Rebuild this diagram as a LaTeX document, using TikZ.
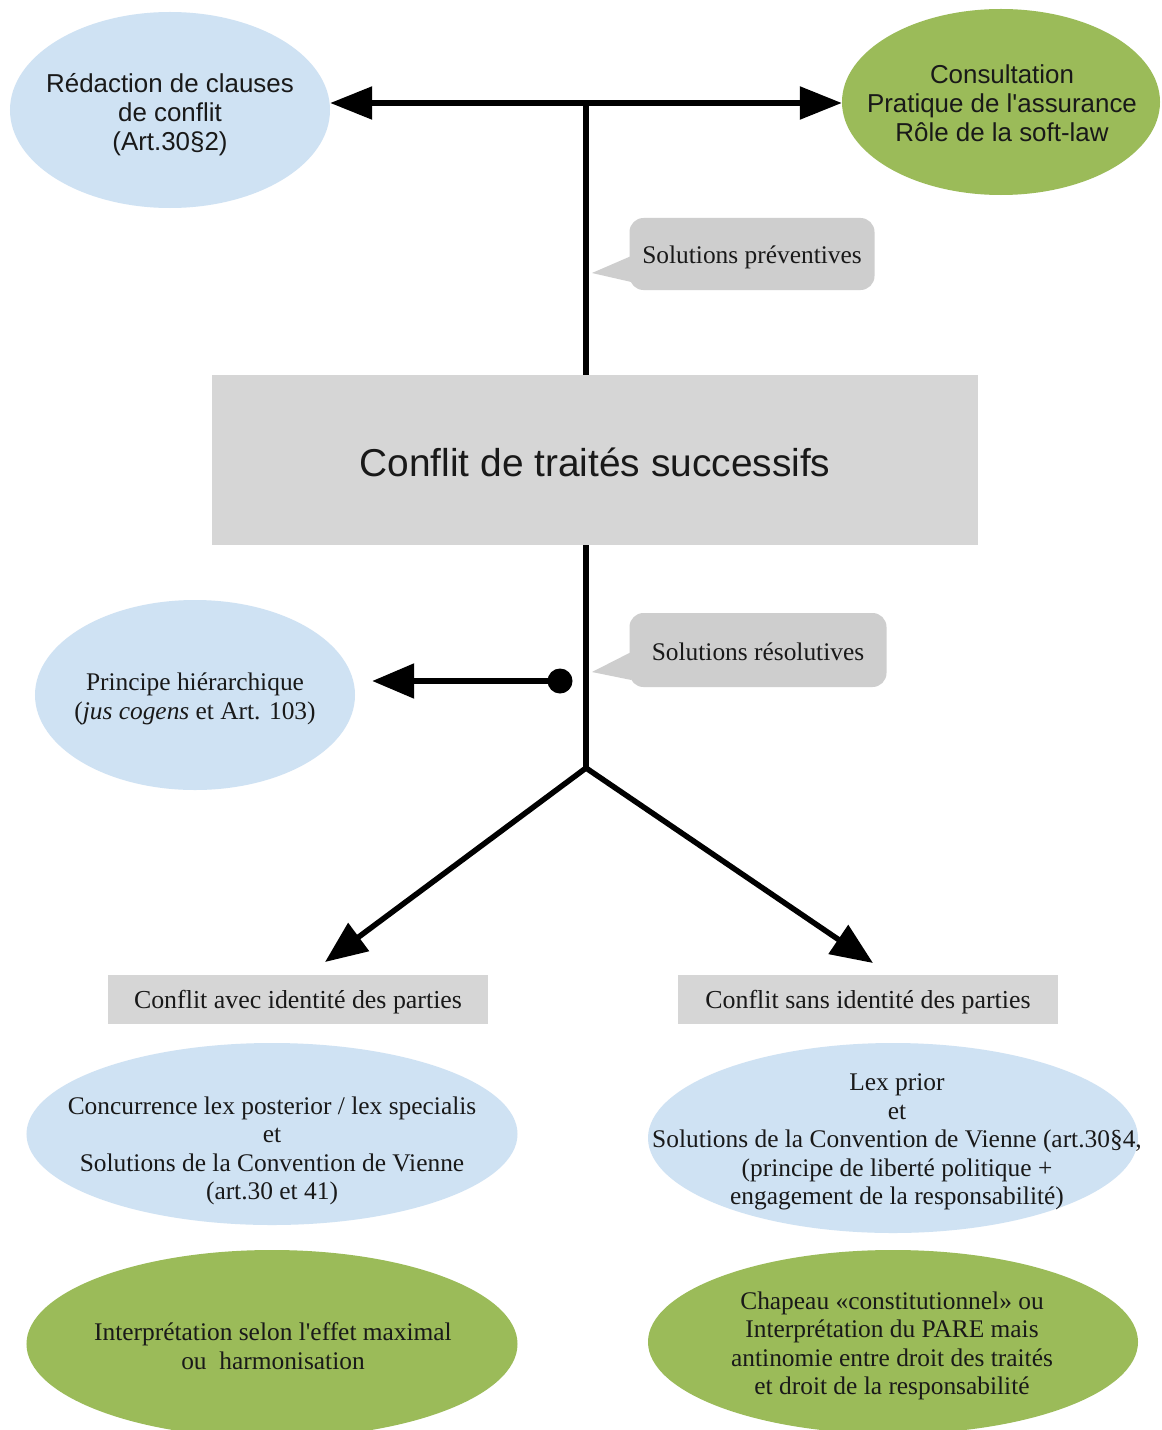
\documentclass[tikz,border=0pt]{standalone}
\usepackage{fontspec}
\setmainfont{Liberation Serif}
\newfontfamily\sansf{Liberation Sans}
\usetikzlibrary{shapes.geometric,arrows.meta,calc}
\definecolor{lblue}{RGB}{207,226,243}
\definecolor{lgreen}{RGB}{155,187,89}
\definecolor{boxgray}{RGB}{214,214,214}
\definecolor{callgray}{RGB}{206,206,206}
\definecolor{txtc}{RGB}{25,25,25}
\tikzset{
  ell/.style={ellipse, draw=none, inner sep=0pt},
  blueell/.style={ell, fill=lblue},
  greenell/.style={ell, fill=lgreen},
  txt/.style={inner sep=0pt, align=center, text=txtc},
  sanstxt/.style={txt, font=\sansf\fontsize{26}{29}\selectfont},
  seriftxt/.style={txt, font=\fontsize{25.5}{28.5}\selectfont},
  graybox/.style={rectangle, fill=boxgray, inner sep=0pt, align=center, text=txtc},
  callbox/.style={rectangle, rounded corners=14bp, fill=callgray, inner sep=0pt, text=txtc, font=\fontsize{25.5}{29}\selectfont},
  conn/.style={line width=5.5bp, line cap=butt},
  arr/.style={conn, -{Triangle[length=42bp,width=34bp]}},
  dblarr/.style={conn, {Triangle[length=42bp,width=32bp]}-{Triangle[length=42bp,width=32bp]}}
}
\begin{document}
\begin{tikzpicture}[x=1bp,y=-1bp]
\useasboundingbox (0,0) rectangle (1161,1430);
\fill[white] (0,0) rectangle (1161,1430);

% top ellipses
\node[blueell, minimum width=320bp, minimum height=196bp] (redac) at (170,110) {};
\node[sanstxt] (redacT) at (170,115) {Rédaction de clauses\\de conflit\\(Art.30§2)};
\node[greenell, minimum width=318bp, minimum height=186bp] (consult) at (1001,102) {};
\node[sanstxt] (consultT) at (1002,103) {Consultation\\Pratique de l\textquotesingle assurance\\Rôle de la soft-law};

% central box
\node[graybox, minimum width=766bp, minimum height=170bp] (main) at (595,460) {};
\node[txt, font=\sansf\fontsize{39}{44}\selectfont] (mainT) at (595,462) {Conflit de traités successifs};

% junctions
\coordinate (jt) at (586,103);
\coordinate (jb) at (586,768);
\coordinate (dot) at (560,681);
\coordinate (tipL) at (325,962);
\coordinate (tipR) at (873,963);

% top connectors
\draw[dblarr] (jt -| redac.east) -- (jt -| consult.west);
\draw[conn] (jt) -- (jt |- main.north);

% callouts
\node[callbox, minimum width=245bp, minimum height=72bp] (cpre) at (752,254) {};
\node[txt, font=\fontsize{25.5}{29}\selectfont] (cpreT) at (752,257) {Solutions préventives};
\coordinate (ptipA) at (592,273);
\fill[callgray] (ptipA) -- ($(cpre.west)+(2,2)$) -- ($(cpre.west)+(2,28)$) -- cycle;

\node[callbox, minimum width=257bp, minimum height=74bp] (cres) at (758,650) {};
\node[txt, font=\fontsize{25.5}{29}\selectfont] (cresT) at (758,652) {Solutions résolutives};
\coordinate (ptipB) at (592,672);
\fill[callgray] (ptipB) -- ($(cres.west)+(2,2)$) -- ($(cres.west)+(2,30)$) -- cycle;

% lower trunk
\draw[conn] (main.south -| jb) -- (jb);

% hierarchical principle
\node[blueell, minimum width=320bp, minimum height=190bp] (hier) at (195,695) {};
\node[seriftxt] (hierT) at (195,699) {Principe hiérarchique\\(\textit{jus cogens} et Art. 103)};
\fill (dot) circle[radius=12.5bp];
\draw[arr, shorten >=17bp] (dot) -- (dot -| hier.east);

% branches
\draw[arr] (jb) -- (tipL);
\draw[arr] (jb) -- (tipR);

% bottom boxes
\node[graybox, minimum width=380bp, minimum height=49bp] (avec) at (298,999) {};
\node[txt, font=\fontsize{26}{29}\selectfont] (avecT) at (298,1002) {Conflit avec identité des parties};
\node[graybox, minimum width=380bp, minimum height=49bp] (sans) at (868,999) {};
\node[txt, font=\fontsize{26}{29}\selectfont] (sansT) at (868,1002) {Conflit sans identité des parties};

% blue ellipses bottom
\node[blueell, minimum width=491bp, minimum height=182bp] (conc) at (272,1134) {};
\node[seriftxt] (concT) at (272,1151)
  {Concurrence lex posterior / lex specialis\\et\\Solutions de la Convention de Vienne\\(art.30 et 41)};
\node[blueell, minimum width=490bp, minimum height=190bp] (lex) at (893,1138) {};
\node[seriftxt] (lexT) at (897,1142)
  {Lex prior\\et\\Solutions de la Convention de Vienne (art.30§4,\\(principe de liberté politique +\\engagement de la responsabilité)};

% green ellipses bottom
\node[greenell, minimum width=491bp, minimum height=188bp] (interp) at (272,1344) {};
\node[seriftxt] (interpT) at (273,1346) {Interprétation selon l\textquotesingle effet maximal\\ou\ \ harmonisation};
\node[greenell, minimum width=490bp, minimum height=184bp] (chap) at (893,1342) {};
\node[seriftxt] (chapT) at (892,1346)
  {Chapeau «constitutionnel» ou\\Interprétation du PARE mais\\antinomie entre droit des traités\\et droit de la responsabilité};
\end{tikzpicture}
\end{document}
